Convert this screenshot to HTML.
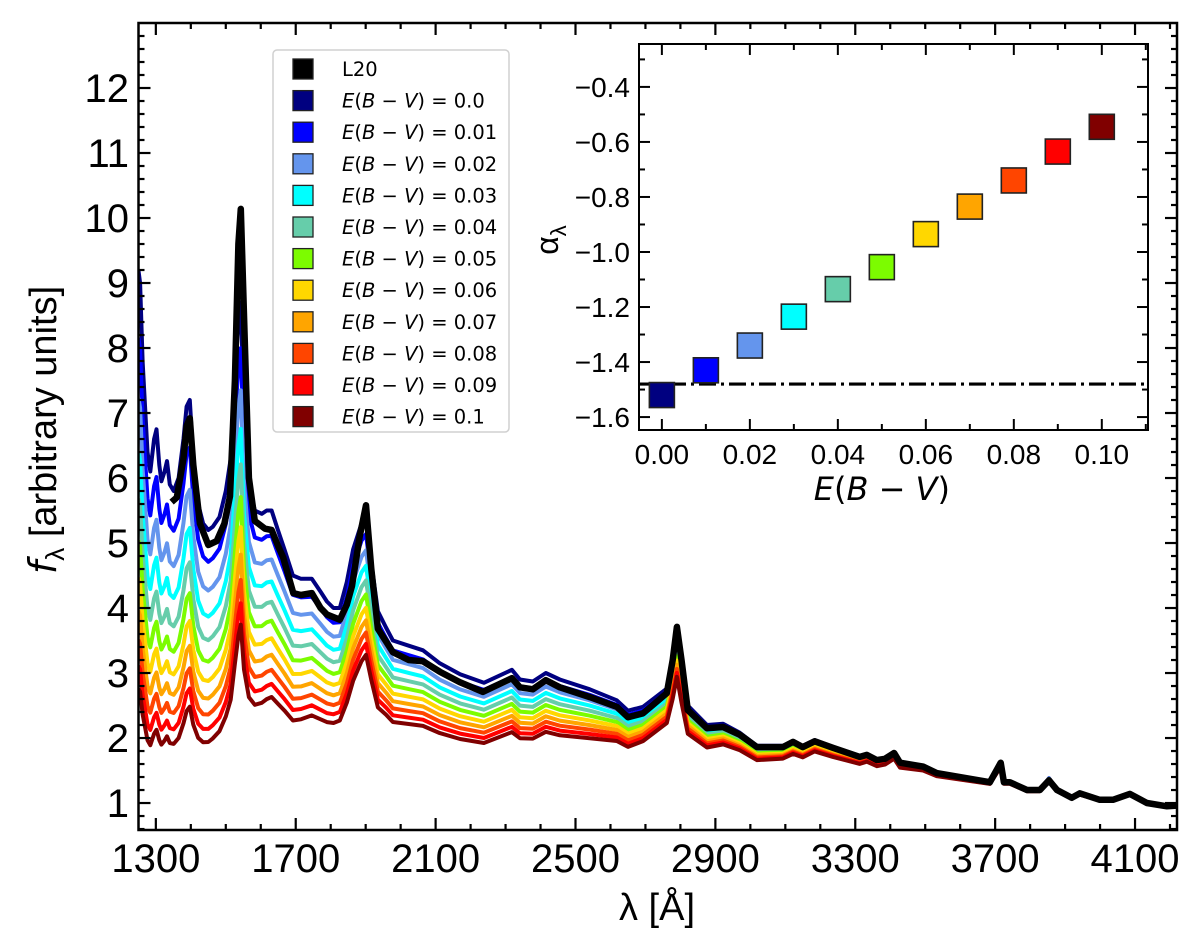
<!DOCTYPE html>
<html><head><meta charset="utf-8"><style>
body{margin:0;background:#fff;}
svg{display:block;font-family:"Liberation Sans","DejaVu Sans",sans-serif;}
</style></head><body>
<svg id="chart" width="1200" height="946" viewBox="0 0 1200 946" xmlns="http://www.w3.org/2000/svg">
<rect width="1200" height="946" fill="#fff"/>
<g id="main-lines"></g>
<g id="main-axes"></g>
<g id="legend"></g>
<g id="inset"></g>
<text x="657" y="920" font-size="38" text-anchor="middle">λ [Å]</text>
<text transform="translate(56,430) rotate(-90)" font-size="38" text-anchor="middle"><tspan font-style="italic" font-family="DejaVu Sans">f</tspan><tspan font-size="26" dy="8">λ</tspan><tspan dy="-8"> [arbitrary units]</tspan></text>
</svg>
<script>
// ---- main chart data ----
const baseWl = [1250,1255,1262,1268,1276,1284,1295,1302,1310,1316,1325,1332,1340,1351,1365,1379,1388,1397,1407,1421,1435,1450,1463,1482,1500,1514,1526,1536,1543,1552,1566,1583,1603,1617,1631,1649,1668,1692,1715,1746,1771,1789,1808,1826,1846,1864,1888,1901,1916,1935,1958,1978,2023,2064,2112,2170,2238,2318,2341,2378,2415,2455,2541,2618,2650,2693,2761,2778,2790,2803,2821,2876,2922,2970,3019,3093,3122,3150,3184,3236,3313,3333,3362,3385,3411,3428,3494,3533,3685,3716,3725,3742,3791,3828,3854,3877,3919,3942,3999,4037,4085,4134,4191,4220];
const baseFlux = [9.2,9.0,7.8,7.2,6.4,6.1,6.6,6.75,6.2,5.95,6.1,6.26,5.9,5.8,6.0,6.6,7.1,7.2,6.3,5.6,5.3,5.2,5.25,5.4,5.8,6.3,7.5,8.4,8.7,7.0,5.9,5.5,5.45,5.5,5.5,5.2,4.9,4.5,4.45,4.45,4.25,4.1,4.0,4.0,4.4,4.9,5.3,5.4,4.7,3.95,3.7,3.5,3.42,3.35,3.15,2.98,2.85,3.05,2.9,2.87,3.0,2.9,2.75,2.58,2.42,2.48,2.76,3.2,3.6,3.1,2.5,2.2,2.22,2.08,1.88,1.88,1.95,1.88,1.97,1.86,1.72,1.75,1.67,1.69,1.78,1.63,1.57,1.47,1.33,1.6,1.33,1.33,1.21,1.21,1.38,1.21,1.09,1.15,1.06,1.06,1.14,1.01,0.96,0.97];
const l20Wl = [1345,1360,1379,1388,1397,1407,1426,1450,1474,1496,1512,1526,1536,1543,1552,1566,1583,1612,1631,1650,1664,1693,1715,1746,1771,1789,1826,1846,1861,1883,1901,1916,1935,1978,2023,2064,2112,2169,2235,2318,2341,2378,2415,2455,2541,2618,2650,2693,2761,2778,2790,2803,2821,2876,2922,2970,3019,3093,3122,3150,3184,3236,3313,3333,3362,3385,3411,3428,3494,3533,3685,3716,3725,3742,3791,3828,3854,3877,3919,3942,3999,4037,4085,4134,4191,4220];
const l20Flux = [5.63,5.7,6.3,6.8,6.92,6.2,5.3,4.97,5.03,5.3,5.72,7.5,9.6,10.14,8.5,6.0,5.34,5.22,5.2,4.95,4.78,4.23,4.2,4.23,4.0,3.9,3.82,4.05,4.34,5.1,5.58,4.6,3.68,3.32,3.2,3.18,3.02,2.86,2.71,2.92,2.78,2.75,2.89,2.78,2.63,2.48,2.32,2.38,2.69,3.2,3.71,3.2,2.43,2.15,2.17,2.05,1.86,1.86,1.94,1.86,1.95,1.85,1.71,1.74,1.66,1.68,1.77,1.62,1.56,1.46,1.32,1.62,1.32,1.32,1.2,1.2,1.35,1.2,1.08,1.15,1.05,1.05,1.14,1.0,0.95,0.96];
// attenuation ratio of the E(B-V)=0.1 spectrum relative to E(B-V)=0, read at anchor wavelengths
const ratioWl = [1250,1388,1482,1588,1775,1962,2200,2500,2700,3000,3300,3600,4220];
const ratioMax = [0.30,0.34,0.39,0.46,0.54,0.64,0.67,0.71,0.79,0.88,0.93,0.97,0.99];
const ebvValues = [0.0,0.01,0.02,0.03,0.04,0.05,0.06,0.07,0.08,0.09,0.1];
const ebvLabels = ["0.0","0.01","0.02","0.03","0.04","0.05","0.06","0.07","0.08","0.09","0.1"];
const seriesColors = ["#000080","#0000ff","#6495ed","#00ffff","#66cdaa","#7cfc00","#ffd700","#ffa500","#ff4500","#ff0000","#800000"];
const xTicks = [1300,1700,2100,2500,2900,3300,3700,4100];
const yTicks = [1,2,3,4,5,6,7,8,9,10,11,12];
// ---- inset data ----
const insetX = [0.0,0.01,0.02,0.03,0.04,0.05,0.06,0.07,0.08,0.09,0.10];
const insetY = [-1.52,-1.43,-1.34,-1.235,-1.135,-1.055,-0.935,-0.835,-0.74,-0.635,-0.545];
const insetRef = [-1.48];
const insetXTicks = ["0.00","0.02","0.04","0.06","0.08","0.10"];
const insetYTicks = ["-0.4","-0.6","-0.8","-1.0","-1.2","-1.4","-1.6"];

const NS="http://www.w3.org/2000/svg";
function mk(tag,attrs,parent){const e=document.createElementNS(NS,tag);for(const k in attrs)e.setAttribute(k,attrs[k]);parent.appendChild(e);return e;}

// main axes geometry
const L=138.5,R=1177,T=23,B=830;
const xMin=1250.4,xMax=4220,yMin=0.585,yMax=13.0;
const X=v=>L+(v-xMin)/(xMax-xMin)*(R-L);
const Y=v=>B-(v-yMin)/(yMax-yMin)*(B-T);
function interp(xs,ys,x){if(x<=xs[0])return ys[0];for(let i=1;i<xs.length;i++){if(x<=xs[i]){const t=(x-xs[i-1])/(xs[i]-xs[i-1]);return ys[i-1]+t*(ys[i]-ys[i-1]);}}return ys[ys.length-1];}

const lines=document.getElementById('main-lines');
const clip=mk('clipPath',{id:'mc'},lines);mk('rect',{x:L,y:T,width:R-L,height:B-T},clip);
const lg=mk('g',{'clip-path':'url(#mc)'},lines);
ebvValues.forEach((e,i)=>{
  const pts=baseWl.map((w,j)=>{const r=interp(ratioWl,ratioMax,w);const f=baseFlux[j]*Math.pow(r,e/0.1);return X(w).toFixed(1)+','+Y(f).toFixed(1);}).join(' ');
  const p=mk('polyline',{points:pts,fill:'none',stroke:seriesColors[i],'stroke-width':4,'stroke-linejoin':'round'},lg);
  
  
});
const l20=mk('polyline',{points:l20Wl.map((w,j)=>X(w).toFixed(1)+','+Y(l20Flux[j]).toFixed(1)).join(' '),fill:'none',stroke:'#000','stroke-width':6.5,'stroke-linejoin':'round'},lg);



const ax=document.getElementById('main-axes');
const frame=mk('rect',{x:L,y:T,width:R-L,height:B-T,fill:'none',stroke:'#000','stroke-width':2.5},ax);


for(let w=1300;w<=4200;w+=100){const maj=(w-1300)%400===0;const len=maj?12:6;const x=X(w);
  mk('line',{x1:x,y1:B,x2:x,y2:B-len,stroke:'#000','stroke-width':2.2},ax);
  mk('line',{x1:x,y1:T,x2:x,y2:T+len,stroke:'#000','stroke-width':2.2},ax);}
for(let k=3;k<=64;k++){const v=k*0.2;if(v<yMin||v>yMax)continue;const maj=k%5===0;const len=maj?12:6;const y=Y(v);
  mk('line',{x1:L,y1:y,x2:L+len,y2:y,stroke:'#000','stroke-width':2.2},ax);
  mk('line',{x1:R,y1:y,x2:R-len,y2:y,stroke:'#000','stroke-width':2.2},ax);}
xTicks.forEach(v=>{const t=mk('text',{x:X(v),y:872,'font-size':40,'text-anchor':'middle'},ax);t.textContent=v;
  
  });
yTicks.forEach(v=>{const t=mk('text',{x:129,y:Y(v)+14,'font-size':40,'text-anchor':'end'},ax);t.textContent=v;
  
  });

// legend
const leg=document.getElementById('legend');
mk('rect',{x:273,y:50,width:236,height:382,rx:4,fill:'#fff','fill-opacity':0.85,stroke:'#d0d0d0','stroke-width':1.5},leg);
const legNames=['L20'].concat(ebvLabels);
const legColors=['#000'].concat(seriesColors);
legNames.forEach((n,i)=>{const cy=69+i*31.6;
  const g=mk('g',{},leg);
  
  
  mk('rect',{x:293,y:cy-10,width:20,height:20,fill:legColors[i],stroke:'#222','stroke-width':1.3},g);
  const t=mk('text',{x:342,y:cy+7,'font-size':19.5,'font-family':'DejaVu Sans, sans-serif'},g);
  if(i===0){t.textContent='L20';}
  else{t.innerHTML='<tspan font-style="italic">E</tspan>(<tspan font-style="italic">B</tspan> − <tspan font-style="italic">V</tspan>) = '+n;}
});

// inset
const ins=document.getElementById('inset');
const iL=639,iR=1148,iT=44,iB=430;
const ixMin=-0.0052,ixMax=0.1105,iyMin=-1.647,iyMax=-0.244;
const IX=v=>iL+(v-ixMin)/(ixMax-ixMin)*(iR-iL);
const IY=v=>iB-(v-iyMin)/(iyMax-iyMin)*(iB-iT);
mk('rect',{x:iL,y:iT,width:iR-iL,height:iB-iT,fill:'#fff',stroke:'#000','stroke-width':2},ins);
for(let k=0;k<=11;k++){const v=k*0.01;const maj=k%2===0;const len=maj?11:6;const x=IX(v);
  mk('line',{x1:x,y1:iB,x2:x,y2:iB-len,stroke:'#000','stroke-width':2},ins);
  mk('line',{x1:x,y1:iT,x2:x,y2:iT+len,stroke:'#000','stroke-width':2},ins);}
for(let k=3;k<=16;k++){const v=-k*0.1;const maj=k%2===0;const len=maj?11:6;const y=IY(v);
  mk('line',{x1:iL,y1:y,x2:iL+len,y2:y,stroke:'#000','stroke-width':2},ins);
  mk('line',{x1:iR,y1:y,x2:iR-len,y2:y,stroke:'#000','stroke-width':2},ins);}
const ref=mk('line',{x1:iL,x2:iR,y1:IY(insetRef[0]),y2:IY(insetRef[0]),stroke:'#000','stroke-width':3.2,'stroke-dasharray':'17,5,3,5'},ins);


insetX.forEach((v,i)=>{const r=mk('rect',{x:IX(v)-12.5,y:IY(insetY[i])-12.5,width:25,height:25,fill:seriesColors[i],stroke:'#222','stroke-width':1.6},ins);
  
  });
insetXTicks.forEach(s=>{const t=mk('text',{x:IX(parseFloat(s)),y:464,'font-size':28,'text-anchor':'middle'},ins);t.textContent=s;
  
  });
insetYTicks.forEach(s=>{const t=mk('text',{x:630,y:IY(parseFloat(s))+10,'font-size':28,'text-anchor':'end'},ins);t.textContent=s.replace('-','−');
  
  });
const ixl=mk('text',{x:IX(0.05),y:500,'font-size':32,'text-anchor':'middle','font-family':'DejaVu Sans, sans-serif'},ins);
ixl.innerHTML='<tspan font-style="italic">E</tspan>(<tspan font-style="italic">B</tspan> − <tspan font-style="italic">V</tspan>)';


const iyl=mk('text',{transform:'translate(558,240) rotate(-90)','font-size':32,'text-anchor':'middle'},ins);
iyl.innerHTML='α<tspan font-size="22" dy="8">λ</tspan>';


</script>
</body></html>
